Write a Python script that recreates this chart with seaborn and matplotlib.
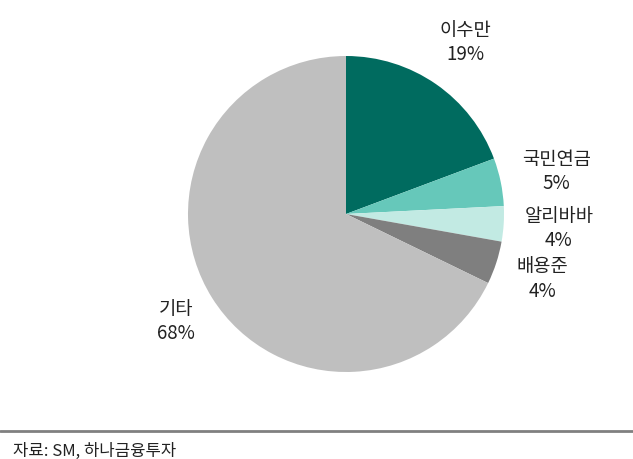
import numpy as np
import matplotlib
matplotlib.use("Agg")
import matplotlib.pyplot as plt
import seaborn as sns

# shareholder structure (%)
holders = ["이수만", "국민연금", "알리바바", "배용준", "기타"]
shares = [19.3, 4.9, 3.6, 4.4, 67.8]
share_labels = ["19%", "5%", "4%", "4%", "68%"]
colors = ["#006B5F", "#66C8BA", "#C2EAE3", "#7F7F7F", "#BFBFBF"]
source = "자료: SM, 하나금융투자"

sns.set_style("white")
plt.rcParams["font.family"] = ["Noto Sans CJK KR", "DejaVu Sans"]

fig = plt.figure(figsize=(6.33, 4.6), dpi=100)
ax = fig.add_axes([188 / 633, 87 / 460, 316 / 633, 316 / 460])

wedges, _ = ax.pie(shares, colors=colors, startangle=90, counterclock=False,
                   wedgeprops=dict(linewidth=0))
ax.set_xlim(-1, 1)
ax.set_ylim(-1, 1)
ax.set_aspect("equal")

# labels outside each wedge
dists = [1.33, 1.36, 1.35, 1.31, 1.27]
for w, name, lab, d in zip(wedges, holders, share_labels, dists):
    ang = np.deg2rad((w.theta1 + w.theta2) / 2)
    ax.text(d * np.cos(ang), d * np.sin(ang), f"{name}\n{lab}",
            ha="center", va="center", fontsize=13.5, linespacing=1.2,
            color="#222222", clip_on=False)

# bottom rule and source
fig.add_artist(plt.Line2D([0, 1], [1 - 432 / 460] * 2, color="#808080", lw=2))
fig.text(13 / 633, 1 - 451 / 460, source, ha="left", va="center",
         fontsize=12, color="#222222")

fig.savefig("out.png", dpi=100)
